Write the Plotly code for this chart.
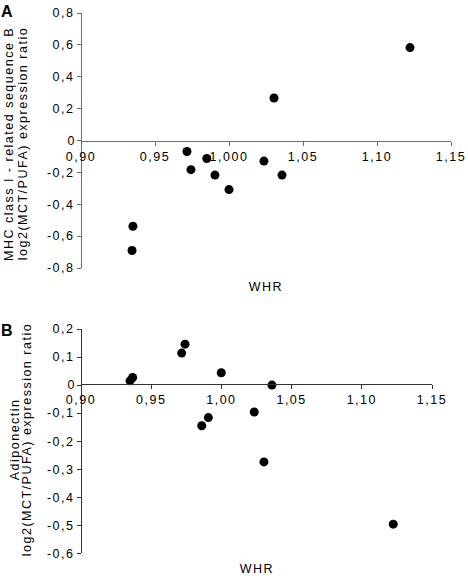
import plotly.graph_objects as go

# Panel A: MHC class I - related sequence B
whr_a = [0.9716, 0.9743, 0.9850, 0.9905, 1.0000, 0.9351, 0.9345, 1.1223, 1.0304, 1.0236, 1.0358]
val_a = [-0.069, -0.183, -0.113, -0.217, -0.308, -0.538, -0.690, 0.583, 0.267, -0.129, -0.217]

# Panel B: Adiponectin
whr_b = [0.9349, 0.9368, 0.9717, 0.9741, 0.9999, 0.9860, 0.9907, 1.0360, 1.0234, 1.0303, 1.1224]
val_b = [0.015, 0.027, 0.114, 0.146, 0.044, -0.145, -0.116, 0.000, -0.096, -0.274, -0.496]

x_ticks = [0.90, 0.95, 1.00, 1.05, 1.10, 1.15]
x_labels_a = ["0,90", "0,95", "1,000", "1,05", "1,10", "1,15"]
x_labels_b = ["0,90", "0,95", "1,00", "1,05", "1,10", "1,15"]
y_ticks_a = [-0.8, -0.6, -0.4, -0.2, 0, 0.2, 0.4, 0.6, 0.8]
y_labels_a = ["-0,8", "-0,6", "-0,4", "-0,2", "0", "0,2", "0,4", "0,6", "0,8"]
y_ticks_b = [-0.6, -0.5, -0.4, -0.3, -0.2, -0.1, 0, 0.1, 0.2]
y_labels_b = ["-0,6", "-0,5", "-0,4", "-0,3", "-0,2", "-0,1", "0", "0,1", "0,2"]

W, H = 468, 578
ML, MR, MT, MB = 81, 17, 13, 20
PH = H - MT - MB
PW = W - ML - MR

def fy(py):
    return (H - MB - py) / PH

def fx(px):
    return (px - ML) / PW

FONT = "Liberation Sans, Arial, sans-serif"
FS = 12.5

fig = go.Figure()
fig.add_trace(go.Scatter(x=whr_a, y=val_a, mode="markers", xaxis="x", yaxis="y",
                         marker=dict(color="black", size=9), showlegend=False, cliponaxis=False))
fig.add_trace(go.Scatter(x=whr_b, y=val_b, mode="markers", xaxis="x2", yaxis="y2",
                         marker=dict(color="black", size=9), showlegend=False, cliponaxis=False))

colA = "#6e6e6e"
colB = "#333333"
common_x = dict(ticks="outside", ticklen=4, showgrid=False, zeroline=False, showline=True,
                tickvals=x_ticks, range=[0.90, 1.15], anchor="free", automargin=False)
common_y = dict(ticks="outside", ticklen=4, showgrid=False, zeroline=False, showline=True,
                anchor="free", position=0, automargin=False)

fig.update_layout(
    width=W, height=H,
    margin=dict(l=ML, r=MR, t=MT, b=MB, autoexpand=False),
    paper_bgcolor="white", plot_bgcolor="rgba(0,0,0,0)",
    font=dict(family=FONT, size=FS, color="black"),
    xaxis=dict(**common_x, domain=[0, 1], ticktext=x_labels_a,
               position=fy(141), linecolor=colA, tickcolor=colA),
    yaxis=dict(**common_y, domain=[fy(268), fy(13)], range=[-0.8, 0.8],
               tickvals=y_ticks_a, ticktext=y_labels_a,
               linecolor=colA, tickcolor=colA),
    xaxis2=dict(**common_x, domain=[0, fx(432)], ticktext=x_labels_b,
                position=fy(384.3), linecolor=colB, tickcolor=colB),
    yaxis2=dict(**common_y, domain=[fy(553.3), fy(329)], range=[-0.6, 0.2],
                tickvals=y_ticks_b, ticktext=y_labels_b,
                linecolor=colB, tickcolor=colB),
)

def add_text(text, px, py, size=FS, angle=0):
    return dict(text=text, x=fx(px), y=fy(py), xref="paper", yref="paper",
                showarrow=False, textangle=angle, xanchor="center", yanchor="middle",
                font=dict(size=size, family=FONT, color="black"))

ann = [
    add_text("<b>A</b>", 7, 11, size=16),
    add_text("<b>B</b>", 7, 330, size=16),
    add_text("WHR", 266, 287),
    add_text("WHR", 256.5, 569),
    add_text("MHC class I - related sequence B", 9, 144, angle=-90),
    add_text("log2(MCT/PUFA) expression ratio", 23, 144, angle=-90),
    add_text("Adiponectin", 15, 440, angle=-90),
    add_text("log2(MCT/PUFA) expression ratio", 27, 440, angle=-90),
]
fig.update_layout(annotations=ann)

post = """
document.body.style.margin='0';
var gd = document.getElementById('{plot_id}');
gd.querySelectorAll('.xtick text, .ytick text, .x2tick text, .y2tick text, .annotation-text').forEach(function(t){
  if (t.textContent.length > 1) { t.style.letterSpacing = '1.5px'; }
});
"""
fig.write_html("out.html", post_script=post, config={"displayModeBar": False})
